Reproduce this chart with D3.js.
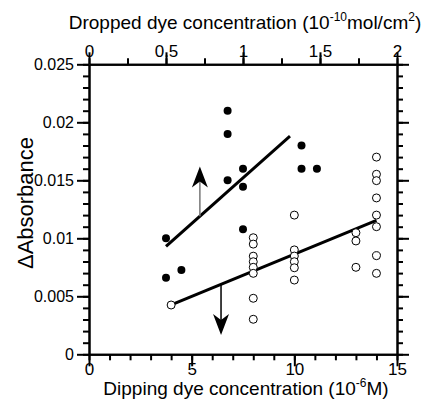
<!DOCTYPE html>
<html>
<head>
<meta charset="utf-8">
<script src="https://cdn.jsdelivr.net/npm/d3@7"></script>
<style>
  html, body { margin: 0; padding: 0; background: #fff; }
  svg { display: block; font-family: "Liberation Sans", Arial, sans-serif; }
</style>
</head>
<body>
<svg id="chart" width="428" height="404"></svg>
<script>
// Dipping series (open circles), x in 10^-6 M
const dipX = [4, 8, 8, 8, 8, 8, 8, 8, 8, 10, 10, 10, 10, 10, 10, 13, 13, 13, 14, 14, 14, 14, 14, 14, 14, 14];
const dipY = [0.00425, 0.01005, 0.0095, 0.00846, 0.00798, 0.0075, 0.00698, 0.00483, 0.00302,
              0.0120, 0.0090, 0.00847, 0.00798, 0.00746, 0.0064,
              0.01048, 0.00977, 0.0075,
              0.0170, 0.01552, 0.01497, 0.01348, 0.0120, 0.0110, 0.0085, 0.00698];

// Dropped series (filled circles), x in 10^-10 mol/cm^2
const dropX = [0.5, 0.5, 0.6, 0.9, 0.9, 0.9, 1.0, 1.0, 1.0, 1.38, 1.38, 1.48];
const dropY = [0.0100, 0.0066, 0.00727, 0.0210, 0.0190, 0.0150, 0.0160, 0.01445, 0.01078, 0.0180, 0.0160, 0.0160];

// Linear fit lines (end points)
const dipFitX = [4, 14];
const dipFitY = [0.00426, 0.01154];
const dropFitX = [0.5, 1.305];
const dropFitY = [0.0093, 0.0188];

// Axis ticks and labels
const bottomMajor = [0, 5, 10, 15];
const bottomLabels = ["0", "5", "10", "15"];
const bottomMinor = d3.range(0, 16, 1);
const topMajor = [0, 0.5, 1, 1.5, 2];
const topLabels = ["0", "0.5", "1", "1.5", "2"];
const topMinor = d3.range(0, 2.01, 0.25);
const yMajor = [0, 0.005, 0.01, 0.015, 0.02, 0.025];
const yLabels = ["0", "0.005", "0.01", "0.015", "0.02", "0.025"];
const yMinor = d3.range(0, 0.02501, 0.001);

const svg = d3.select("#chart");
const L = 89, R = 397, T = 64.3, B = 354.3;

const xB = d3.scaleLinear().domain([0, 15]).range([L, R]);
const xT = d3.scaleLinear().domain([0, 2]).range([L, R]);
const y = d3.scaleLinear().domain([0, 0.025]).range([B, T]);

const MAJ = 12, MIN = 6;

function styleAxis(g) {
  g.selectAll("path, line").attr("stroke", "#000").attr("stroke-width", 2);
  g.selectAll("text").attr("fill", "#000").attr("font-family", "Liberation Sans, Arial, sans-serif");
}

// Bottom axis
svg.append("g").attr("transform", `translate(0,${B})`)
  .call(d3.axisBottom(xB).tickValues(bottomMinor).tickSize(MIN).tickSizeOuter(0).tickFormat(""))
  .call(styleAxis);
svg.append("g").attr("transform", `translate(0,${B})`)
  .call(d3.axisBottom(xB).tickValues(bottomMajor).tickSize(MAJ).tickSizeOuter(0)
        .tickPadding(-3).tickFormat((d, i) => bottomLabels[i]))
  .call(g => g.selectAll("text").attr("font-size", 17))
  .call(styleAxis);

// Top axis
svg.append("g").attr("transform", `translate(0,${T})`)
  .call(d3.axisTop(xT).tickValues(topMinor).tickSize(MIN).tickSizeOuter(0).tickFormat(""))
  .call(styleAxis);
svg.append("g").attr("transform", `translate(0,${T})`)
  .call(d3.axisTop(xT).tickValues(topMajor).tickSize(MAJ).tickSizeOuter(0)
        .tickPadding(-5).tickFormat((d, i) => topLabels[i]))
  .call(g => g.selectAll("text").attr("font-size", 17))
  .call(styleAxis);

// Left axis
svg.append("g").attr("transform", `translate(${L},0)`)
  .call(d3.axisLeft(y).tickValues(yMinor).tickSize(MIN).tickSizeOuter(0).tickFormat(""))
  .call(styleAxis);
svg.append("g").attr("transform", `translate(${L},0)`)
  .call(d3.axisLeft(y).tickValues(yMajor).tickSize(MAJ).tickSizeOuter(0)
        .tickPadding(3).tickFormat((d, i) => yLabels[i]))
  .call(g => g.selectAll("text").attr("font-size", 16))
  .call(styleAxis);

// Right axis
svg.append("g").attr("transform", `translate(${R},0)`)
  .call(d3.axisRight(y).tickValues(yMinor).tickSize(MIN).tickSizeOuter(0).tickFormat(""))
  .call(styleAxis);
svg.append("g").attr("transform", `translate(${R},0)`)
  .call(d3.axisRight(y).tickValues(yMajor).tickSize(MAJ).tickSizeOuter(0).tickFormat(""))
  .call(styleAxis);

// Axis titles
const topTitle = svg.append("text").attr("x", 245).attr("y", 29)
  .attr("text-anchor", "middle").attr("font-size", 19).attr("fill", "#000");
topTitle.append("tspan").text("Dropped dye concentration (10");
topTitle.append("tspan").attr("font-size", 12).attr("dy", -8).text("-10");
topTitle.append("tspan").attr("dy", 8).text("mol/cm");
topTitle.append("tspan").attr("font-size", 12).attr("dy", -8).text("2");
topTitle.append("tspan").attr("dy", 8).text(")");

const botTitle = svg.append("text").attr("x", 246).attr("y", 395)
  .attr("text-anchor", "middle").attr("font-size", 19).attr("fill", "#000");
botTitle.append("tspan").text("Dipping dye concentration (10");
botTitle.append("tspan").attr("font-size", 12).attr("dy", -8).text("-6");
botTitle.append("tspan").attr("dy", 8).text("M)");

svg.append("text").attr("transform", "translate(33,203) rotate(-90)")
  .attr("text-anchor", "middle").attr("font-size", 22).attr("fill", "#000")
  .text("\u0394Absorbance");

// Fit lines
const line = d3.line();
svg.append("path")
  .attr("d", line(dropFitX.map((v, i) => [xT(v), y(dropFitY[i])])))
  .attr("stroke", "#000").attr("stroke-width", 3).attr("fill", "none");
svg.append("path")
  .attr("d", line(dipFitX.map((v, i) => [xB(v), y(dipFitY[i])])))
  .attr("stroke", "#000").attr("stroke-width", 3).attr("fill", "none");

// Arrows indicating the axis each series belongs to
function arrow(x, y0, y1, stemColor) {
  const dir = y1 < y0 ? 1 : -1; // 1: pointing up
  svg.append("line").attr("x1", x).attr("x2", x).attr("y1", y0).attr("y2", y1 + dir * 14)
    .attr("stroke", stemColor).attr("stroke-width", 1.5);
  const p = [[x, y1], [x - 8, y1 + dir * 21], [x, y1 + dir * 15], [x + 8, y1 + dir * 21]];
  svg.append("path").attr("d", "M" + p.join("L") + "Z").attr("fill", "#000");
}
const upX = 0.72;
const upY0 = dropFitY[0] + (upX - dropFitX[0]) * (dropFitY[1] - dropFitY[0]) / (dropFitX[1] - dropFitX[0]);
arrow(xT(upX), y(upY0), y(0.0162), "#777");
const dnX = 6.43;
const dnY0 = dipFitY[0] + (dnX - dipFitX[0]) * (dipFitY[1] - dipFitY[0]) / (dipFitX[1] - dipFitX[0]);
arrow(xB(dnX), y(dnY0), y(0.00166), "#000");

// Points
svg.append("g").selectAll("circle").data(dipX).join("circle")
  .attr("cx", d => xB(d)).attr("cy", (d, i) => y(dipY[i])).attr("r", 4)
  .attr("fill", "#fff").attr("stroke", "#000").attr("stroke-width", 1);
svg.append("g").selectAll("circle").data(dropX).join("circle")
  .attr("cx", d => xT(d)).attr("cy", (d, i) => y(dropY[i])).attr("r", 4)
  .attr("fill", "#000");
</script>
</body>
</html>
